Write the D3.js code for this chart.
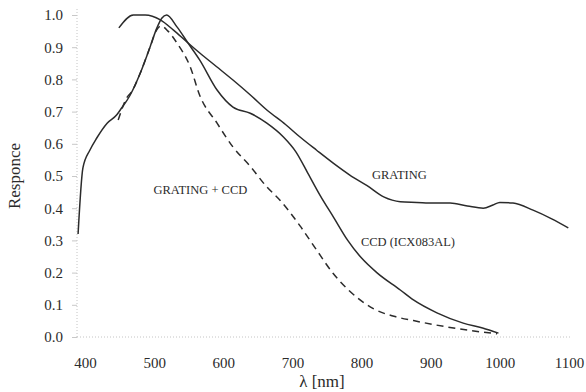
<!DOCTYPE html>
<html>
<head>
<meta charset="utf-8">
<script src="https://cdn.jsdelivr.net/npm/d3@7"></script>
<style>
  html, body { margin: 0; padding: 0; background: #fff; }
  svg { display: block; }
</style>
</head>
<body>
<div id="chart"></div>
<script>
// 波长刻度与响应刻度
const xTicks = [400, 500, 600, 700, 800, 900, 1000, 1100];
const yTicks = [0, 0.1, 0.2, 0.3, 0.4, 0.5, 0.6, 0.7, 0.8, 0.9, 1.0];

// GRATING
const gratingWl = [449, 470, 487, 509, 528, 547, 566, 590, 614, 640, 663, 690, 711, 735, 759, 783, 808, 832, 856, 880, 904, 928, 953, 976, 990, 1000, 1019, 1048, 1075, 1099];
const gratingVal = [0.96, 1.0, 1.0, 0.985, 0.953, 0.917, 0.882, 0.84, 0.798, 0.75, 0.705, 0.66, 0.621, 0.58, 0.54, 0.503, 0.47, 0.435, 0.42, 0.418, 0.416, 0.416, 0.407, 0.40, 0.41, 0.418, 0.416, 0.394, 0.367, 0.339];

// CCD (ICX083AL)
const ccdWl = [390, 397, 407, 417, 432, 446, 451, 465, 480, 494, 504, 511, 518, 533, 549, 566, 591, 614, 639, 663, 687, 705, 722, 740, 760, 780, 800, 822, 856, 875, 909, 947, 975, 998];
const ccdVal = [0.32, 0.525, 0.58, 0.618, 0.664, 0.69, 0.705, 0.75, 0.82, 0.9, 0.96, 0.99, 1.0, 0.963, 0.913, 0.86, 0.767, 0.714, 0.695, 0.664, 0.621, 0.575, 0.51, 0.44, 0.37, 0.30, 0.245, 0.2, 0.146, 0.115, 0.075, 0.043, 0.028, 0.012];

// GRATING + CCD
const bothWl = [448, 461, 467, 480, 494, 504, 510, 520, 533, 552, 566, 591, 614, 639, 663, 682, 711, 735, 759, 783, 817, 851, 875, 924, 972, 996];
const bothVal = [0.674, 0.745, 0.76, 0.82, 0.9, 0.955, 0.966, 0.95, 0.913, 0.84, 0.75, 0.664, 0.59, 0.53, 0.466, 0.425, 0.345, 0.27, 0.197, 0.142, 0.088, 0.062, 0.051, 0.031, 0.016, 0.01];

const series = [
  { name: 'GRATING', wl: gratingWl, val: gratingVal, dash: null },
  { name: 'CCD (ICX083AL)', wl: ccdWl, val: ccdVal, dash: null },
  { name: 'GRATING + CCD', wl: bothWl, val: bothVal, dash: '7,5' }
];

const width = 586, height = 392;
const ink = '#2b2b2b';
const font = '"Liberation Serif", "DejaVu Serif", serif';

const svg = d3.select('#chart').append('svg')
  .attr('width', width)
  .attr('height', height)
  .style('font-family', font);

const x = d3.scaleLinear().domain([400, 1100]).range([85, 569]);
const y = d3.scaleLinear().domain([0, 1]).range([337, 15]);
const axisX0 = 77;

// 虚点坐标轴线
svg.append('line')
  .attr('x1', axisX0).attr('x2', axisX0)
  .attr('y1', y(0)).attr('y2', y(1) - 6)
  .attr('stroke', '#c4c4c4').attr('stroke-width', 1)
  .attr('stroke-dasharray', '1,2');
svg.append('line')
  .attr('x1', axisX0).attr('x2', 571)
  .attr('y1', y(0)).attr('y2', y(0))
  .attr('stroke', '#c4c4c4').attr('stroke-width', 1)
  .attr('stroke-dasharray', '1,2');

// Y 轴
const yAxis = svg.append('g')
  .attr('transform', `translate(${axisX0},0)`)
  .call(d3.axisLeft(y).tickValues(yTicks).tickFormat(d3.format('.1f'))
    .tickSize(5).tickPadding(9));
yAxis.select('.domain').remove();
yAxis.selectAll('line').attr('stroke', '#c8c8c8');
yAxis.selectAll('text')
  .style('font-size', '15px')
  .style('font-family', font)
  .attr('fill', ink);

// X 轴
const xAxis = svg.append('g')
  .attr('transform', `translate(0,${y(0)})`)
  .call(d3.axisBottom(x).tickValues(xTicks).tickFormat(d3.format('d'))
    .tickSize(0).tickPadding(20));
xAxis.select('.domain').remove();
xAxis.selectAll('text')
  .style('font-size', '15px')
  .style('font-family', font)
  .attr('fill', ink);

// 曲线
const line = d3.line()
  .x(d => x(d[0]))
  .y(d => y(d[1]))
  .curve(d3.curveMonotoneX);

series.forEach(s => {
  const pts = s.wl.map((w, i) => [w, s.val[i]]);
  svg.append('path')
    .attr('d', line(pts))
    .attr('fill', 'none')
    .attr('stroke', ink)
    .attr('stroke-width', 1.5)
    .attr('stroke-linejoin', 'round')
    .attr('stroke-dasharray', s.dash);
});

// 曲线标签
const labels = [
  { text: 'GRATING', wl: 815, v: 0.49 },
  { text: 'GRATING + CCD', wl: 499, v: 0.445 },
  { text: 'CCD (ICX083AL)', wl: 799, v: 0.283 }
];
svg.selectAll('.curve-label')
  .data(labels)
  .enter()
  .append('text')
  .attr('class', 'curve-label')
  .attr('x', d => x(d.wl))
  .attr('y', d => y(d.v))
  .style('font-size', '12.5px')
  .attr('fill', ink)
  .text(d => d.text);

// 轴标题
svg.append('text')
  .attr('transform', `translate(20,${y(0.5)}) rotate(-90)`)
  .attr('text-anchor', 'middle')
  .style('font-size', '17px')
  .attr('fill', ink)
  .text('Responce');

svg.append('text')
  .attr('x', 322)
  .attr('y', 387)
  .attr('text-anchor', 'middle')
  .style('font-size', '17px')
  .attr('fill', ink)
  .text('λ [nm]');
</script>
</body>
</html>
